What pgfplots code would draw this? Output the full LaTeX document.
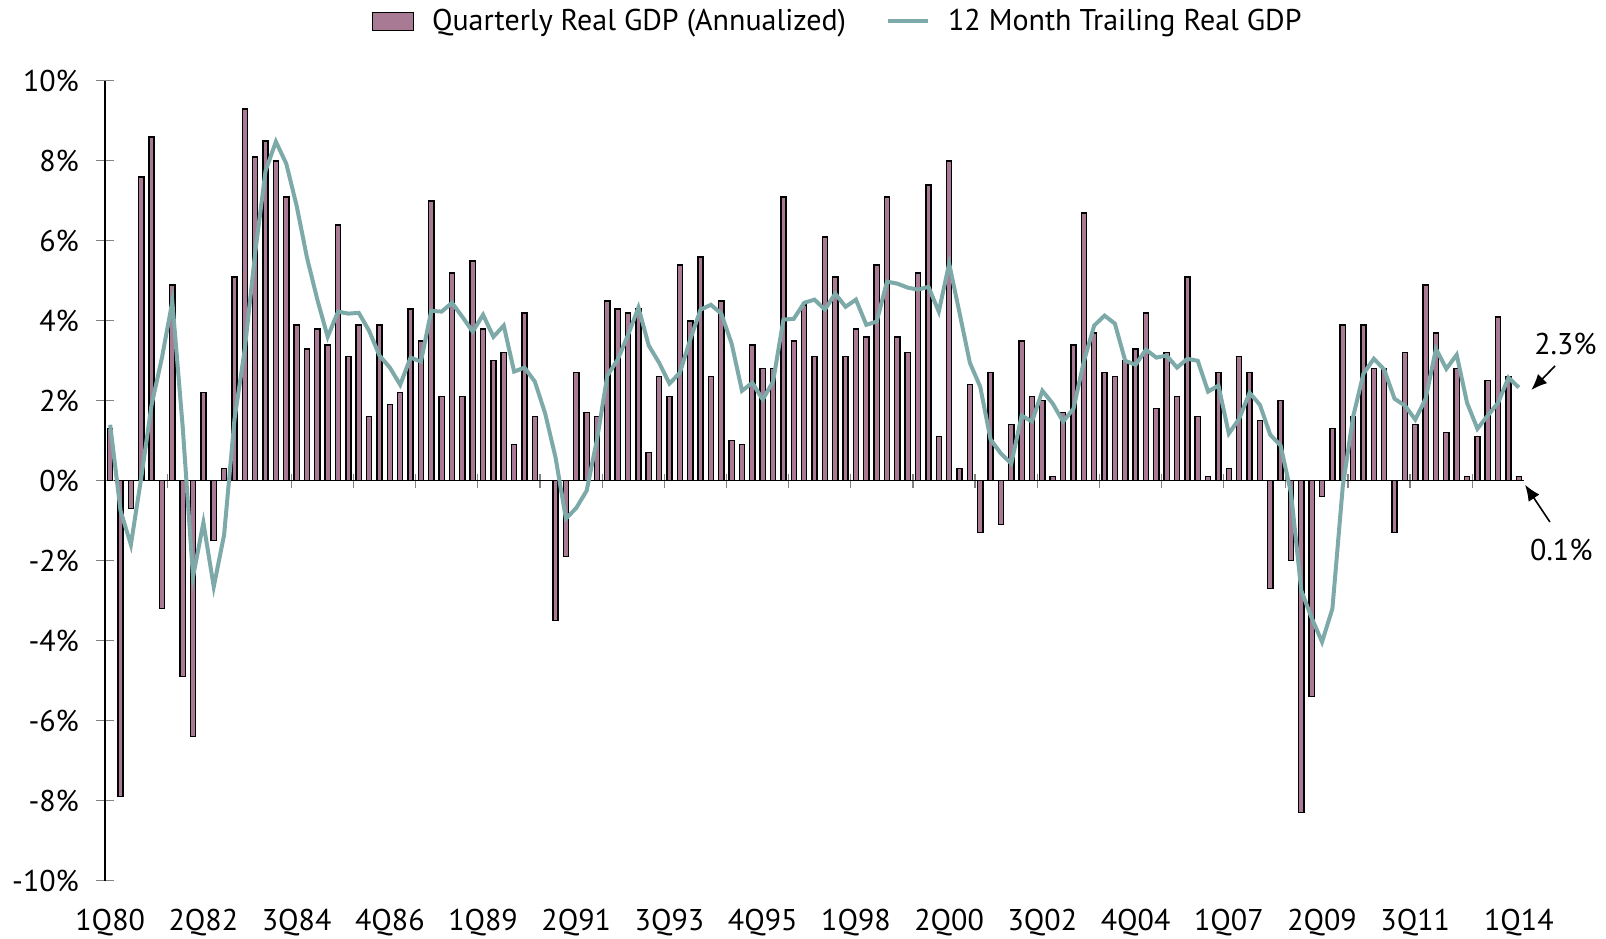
\documentclass[border=0pt]{standalone}
\usepackage{pgfplots}
\usepackage{pgfplotstable}
\pgfplotsset{compat=1.18}
\usetikzlibrary{arrows.meta}
\usepackage{fontspec}
\setmainfont{PT Sans}
\definecolor{barfill}{RGB}{168,122,148}
\definecolor{trail}{RGB}{125,170,168}
\definecolor{tickgray}{RGB}{130,130,130}
\pgfplotstableread{
x gdp trail
0 1.3 1.40
1 -7.9 -0.75
2 -0.7 -1.60
3 7.6 0.08
4 8.6 1.90
5 -3.2 3.08
6 4.9 4.48
7 -4.9 1.35
8 -6.4 -2.40
9 2.2 -1.05
10 -1.5 -2.65
11 0.3 -1.35
12 5.1 1.53
13 9.3 3.30
14 8.1 5.70
15 8.5 7.75
16 8.0 8.48
17 7.1 7.93
18 3.9 6.88
19 3.3 5.58
20 3.8 4.53
21 3.4 3.60
22 6.4 4.23
23 3.1 4.18
24 3.9 4.20
25 1.6 3.75
26 3.9 3.13
27 1.9 2.83
28 2.2 2.40
29 4.3 3.08
30 3.5 2.98
31 7.0 4.25
32 2.1 4.23
33 5.2 4.45
34 2.1 4.10
35 5.5 3.73
36 3.8 4.15
37 3.0 3.60
38 3.2 3.88
39 0.9 2.73
40 4.2 2.83
41 1.6 2.48
42 0.0 1.68
43 -3.5 0.58
44 -1.9 -0.95
45 2.7 -0.68
46 1.7 -0.25
47 1.6 1.03
48 4.5 2.63
49 4.3 3.03
50 4.2 3.65
51 4.3 4.33
52 0.7 3.38
53 2.6 2.95
54 2.1 2.43
55 5.4 2.70
56 4.0 3.53
57 5.6 4.28
58 2.6 4.40
59 4.5 4.18
60 1.0 3.43
61 0.9 2.25
62 3.4 2.45
63 2.8 2.03
64 2.8 2.48
65 7.1 4.03
66 3.5 4.05
67 4.4 4.45
68 3.1 4.53
69 6.1 4.28
70 5.1 4.68
71 3.1 4.35
72 3.8 4.53
73 3.6 3.90
74 5.4 3.98
75 7.1 4.98
76 3.6 4.93
77 3.2 4.83
78 5.2 4.78
79 7.4 4.85
80 1.1 4.23
81 8.0 5.43
82 0.3 4.20
83 2.4 2.95
84 -1.3 2.35
85 2.7 1.03
86 -1.1 0.68
87 1.4 0.43
88 3.5 1.63
89 2.1 1.48
90 2.0 2.25
91 0.1 1.93
92 1.7 1.48
93 3.4 1.80
94 6.7 2.98
95 3.7 3.88
96 2.7 4.13
97 2.6 3.93
98 3.0 3.00
99 3.3 2.90
100 4.2 3.28
101 1.8 3.08
102 3.2 3.13
103 2.1 2.83
104 5.1 3.05
105 1.6 3.00
106 0.1 2.23
107 2.7 2.38
108 0.3 1.18
109 3.1 1.55
110 2.7 2.20
111 1.5 1.90
112 -2.7 1.15
113 2.0 0.88
114 -2.0 -0.30
115 -8.3 -2.75
116 -5.4 -3.43
117 -0.4 -4.03
118 1.3 -3.20
119 3.9 -0.15
120 1.6 1.60
121 3.9 2.68
122 2.8 3.05
123 2.8 2.78
124 -1.3 2.05
125 3.2 1.88
126 1.4 1.53
127 4.9 2.05
128 3.7 3.30
129 1.2 2.80
130 2.8 3.15
131 0.1 1.95
132 1.1 1.30
133 2.5 1.63
134 4.1 1.95
135 2.6 2.58
136 0.1 2.33
}\gdpdata
\begin{document}
\begin{tikzpicture}
\useasboundingbox (0,0) rectangle (803pt,469pt);
% zero line and its small ticks
\begin{axis}[
  at={(52.5pt,28.7pt)}, anchor=south west,
  scale only axis, width=709.5pt, height=399.85pt,
  xmin=-0.5, xmax=136.5, ymin=-10, ymax=10,
  axis x line*=middle, axis y line=none,
  xtick={5.5,11.5,...,131.5}, xticklabels={},
  tick align=center, major tick length=7pt,
  x tick style={tickgray, line width=0.6pt},
  x axis line style={black, line width=0.75pt},
]
\end{axis}
\begin{axis}[
  at={(52.5pt,28.7pt)}, anchor=south west,
  scale only axis, width=709.5pt, height=399.85pt,
  xmin=-0.5, xmax=136.5, ymin=-10, ymax=10,
  axis y line*=left, axis x line*=bottom,
  x axis line style={draw=none},
  y axis line style={black, line width=0.75pt},
  tick align=center,
  ytick={-10,-8,...,10},
  yticklabels={-10\%,-8\%,-6\%,-4\%,-2\%,0\%,2\%,4\%,6\%,8\%,10\%},
  y tick style={tickgray, line width=0.6pt},
  major tick length=9pt,
  xtick={0,9,18,27,36,45,54,63,72,81,90,99,108,117,126,136},
  xticklabels={1Q80,2Q82,3Q84,4Q86,1Q89,2Q91,3Q93,4Q95,1Q98,2Q00,3Q02,4Q04,1Q07,2Q09,3Q11,1Q14},
  x tick style={draw=none},
  tick label style={font=\fontsize{15}{18}\selectfont},
  xticklabel style={yshift=-6pt},
  yticklabel style={xshift=-5pt},
  clip=false,
  legend style={at={(0.517,1.0743)}, anchor=center, draw=none, fill=none,
    legend columns=2, font=\fontsize{15}{18}\selectfont,
    /tikz/every odd column/.append style={column sep=7pt},
    /tikz/every even column/.append style={column sep=18pt}},
  legend cell align=left,
]
\addplot[ybar, bar width=0.5, fill=barfill, draw=black, line width=0.7pt,
  legend image code/.code={\draw[fill=barfill, draw=black, line width=0.7pt] (0pt,-4.5pt) rectangle (20.5pt,4.5pt);}]
  table[x=x, y=gdp] {\gdpdata};
\addlegendentry{Quarterly Real GDP (Annualized)}
\addplot[trail, line width=2pt, no markers,
  legend image code/.code={\draw[trail, line width=2pt] (0pt,0pt) -- (20pt,0pt);}]
  table[x=x, y=trail] {\gdpdata};
\addlegendentry{12 Month Trailing Real GDP}
\node[font=\fontsize{15}{18}\selectfont] at (axis cs:140.5,3.42) {2.3\%};
\draw[-{Latex[length=8pt,width=6.5pt]}, line width=0.8pt] (axis cs:139.5,2.87) -- (axis cs:137.2,2.27);
\node[font=\fontsize{15}{18}\selectfont] at (axis cs:140.1,-1.73) {0.1\%};
\draw[-{Latex[length=8pt,width=6.5pt]}, line width=0.8pt] (axis cs:139.0,-1.03) -- (axis cs:136.6,-0.1);
\end{axis}
\end{tikzpicture}
\end{document}
